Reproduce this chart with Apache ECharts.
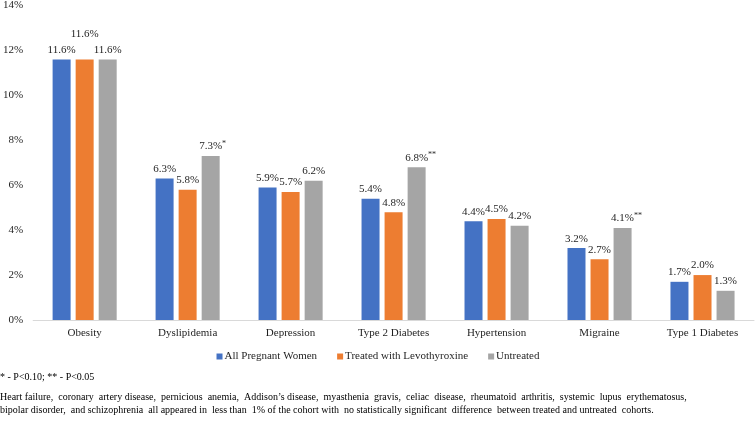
<!DOCTYPE html>
<html>
<head>
<meta charset="utf-8">
<script src="https://cdn.jsdelivr.net/npm/echarts@6/dist/echarts.min.js"></script>
<style>
html,body{margin:0;padding:0;background:#fff;}
#chart{width:756px;height:423px;}
</style>
</head>
<body>
<div id="chart"></div>
<script>
const categories = ["Obesity", "Dyslipidemia", "Depression", "Type 2 Diabetes", "Hypertension", "Migraine", "Type 1 Diabetes"];
const seriesNames = ["All Pregnant Women", "Treated with Levothyroxine", "Untreated"];
const allPregnant = [11.6, 6.3, 5.9, 5.4, 4.4, 3.2, 1.7];
const treated = [11.6, 5.8, 5.7, 4.8, 4.5, 2.7, 2.0];
const untreated = [11.6, 7.3, 6.2, 6.8, 4.2, 4.1, 1.3];
const untreatedMarks = ["", "*", "", "**", "", "**", ""];
const yTicks = [0, 2, 4, 6, 8, 10, 12, 14];
const footnote = "* - P<0.10; ** - P<0.05";
const noteLine1 = "Heart failure,  coronary  artery disease,  pernicious  anemia,  Addison\u2019s disease,  myasthenia  gravis,  celiac  disease,  rheumatoid  arthritis,  systemic  lupus  erythematosus,";
const noteLine2 = "bipolar disorder,  and schizophrenia  all appeared in  less than  1% of the cohort with  no statistically significant  difference  between treated and untreated  cohorts.";

const FONT = '"Liberation Serif", "Times New Roman", serif';
const TEXT = '#1f1f1f';
const colors = ["#4472C4", "#ED7D31", "#A5A5A5"];

function makeData(values, marks, offsets) {
  return values.map((v, i) => {
    const item = { value: v };
    const m = marks ? marks[i] : "";
    const off = offsets && offsets[i] ? offsets[i] : [0, 0];
    const shift = m ? m.length * 2 : 0;
    item.label = { offset: [off[0] + shift, off[1]] };
    return item;
  });
}

const labelBase = {
  show: true,
  position: 'top',
  distance: 3,
  fontFamily: FONT,
  fontSize: 11,
  color: TEXT,
  rich: {
    v: { fontFamily: FONT, fontSize: 11, color: TEXT, lineHeight: 13 },
    s: { fontFamily: FONT, fontSize: 8, color: TEXT, lineHeight: 13, verticalAlign: 'top', padding: [0, 0, 6, 0] }
  }
};

function labelFor(marks) {
  return Object.assign({}, labelBase, {
    formatter: function (p) {
      const m = marks ? marks[p.dataIndex] : "";
      const txt = p.value.toFixed(1) + '%';
      return m ? '{v|' + txt + '}{s|' + m + '}' : '{v|' + txt + '}';
    }
  });
}

const chart = echarts.init(document.getElementById('chart'), null, { renderer: 'canvas' });
chart.setOption({
  animation: false,
  backgroundColor: '#ffffff',
  color: colors,
  grid: { left: 30, right: 2, top: 5, bottom: 103, containLabel: false },
  legend: {
    data: seriesNames,
    left: 'center',
    top: 346,
    icon: 'rect',
    itemWidth: 6,
    itemHeight: 6,
    itemGap: 20,
    textStyle: { fontFamily: FONT, fontSize: 11, color: TEXT, padding: [0, 0, 0, -3] }
  },
  xAxis: {
    type: 'category',
    data: categories,
    axisLine: { show: true, lineStyle: { color: '#D9D9D9', width: 1 } },
    axisTick: { show: false },
    axisLabel: { fontFamily: FONT, fontSize: 11, color: TEXT, margin: 8 }
  },
  yAxis: {
    type: 'value',
    min: yTicks[0],
    max: yTicks[yTicks.length - 1],
    interval: yTicks[1] - yTicks[0],
    axisLine: { show: false },
    axisTick: { show: false },
    splitLine: { show: false },
    axisLabel: { fontFamily: FONT, fontSize: 11, color: TEXT, margin: 10, formatter: '{value}%' }
  },
  series: [
    {
      name: seriesNames[0], type: 'bar', barWidth: 18, barGap: '28%',
      data: makeData(allPregnant, null, null),
      label: labelFor(null)
    },
    {
      name: seriesNames[1], type: 'bar', barWidth: 18, barGap: '28%',
      data: makeData(treated, null, [[0, -16]]),
      label: labelFor(null)
    },
    {
      name: seriesNames[2], type: 'bar', barWidth: 18, barGap: '28%',
      data: makeData(untreated, untreatedMarks, null),
      label: labelFor(untreatedMarks)
    }
  ],
  graphic: [
    { type: 'text', left: 0, top: 372, style: { text: footnote, font: '10px ' + FONT, fill: '#000' } },
    { type: 'text', left: 0, top: 392, style: { text: noteLine1, font: '10px ' + FONT, fill: '#000' } },
    { type: 'text', left: 0, top: 405, style: { text: noteLine2, font: '10px ' + FONT, fill: '#000' } }
  ]
});
</script>
</body>
</html>
